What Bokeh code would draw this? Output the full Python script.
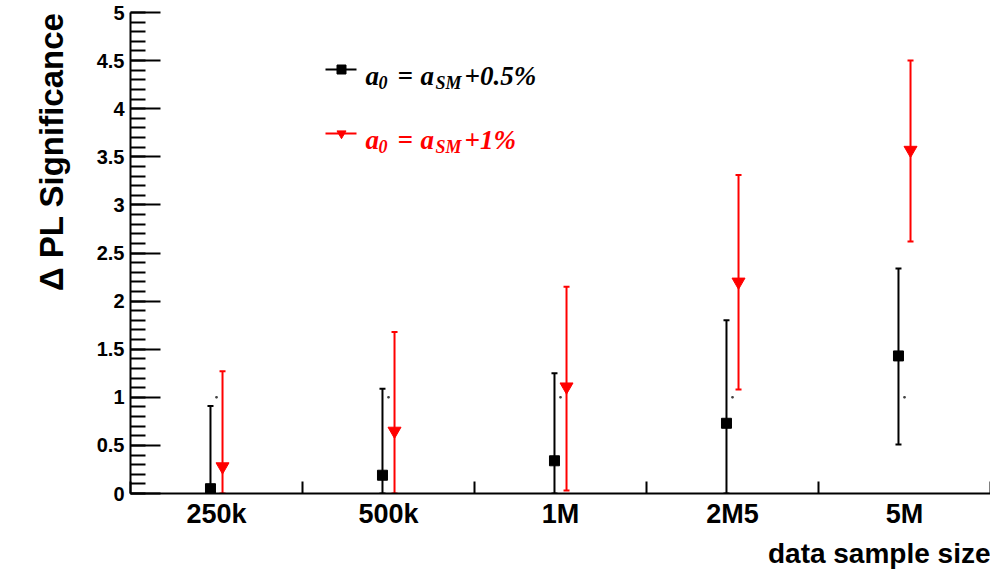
import numpy as np
from bokeh.plotting import figure
from bokeh.models import (Range1d, FixedTicker, Label, Whisker, TeeHead, ColumnDataSource,
                          Title)
from bokeh.embed import file_html
from bokeh.resources import INLINE

# ---------------- data ----------------
categories = ["250k", "500k", "1M", "2M5", "5M"]

sig_05 = [0.05, 0.19, 0.34, 0.73, 1.43]        # a0 = aSM + 0.5%
sig_05_lo = [0.0, 0.0, 0.0, 0.0, 0.51]
sig_05_hi = [0.91, 1.09, 1.25, 1.80, 2.34]

sig_1 = [0.28, 0.65, 1.11, 2.20, 3.57]         # a0 = aSM + 1%
sig_1_lo = [0.0, 0.0, 0.03, 1.08, 2.62]
sig_1_hi = [1.27, 1.68, 2.15, 3.31, 4.50]

ref_level = [1.0, 1.0, 1.0, 1.0, 1.0]

y_major = [0, 0.5, 1, 1.5, 2, 2.5, 3, 3.5, 4, 4.5, 5]
y_labels = ["0", "0.5", "1", "1.5", "2", "2.5", "3", "3.5", "4", "4.5", "5"]

# ---------------- layout ----------------
W, H = 990, 574
LEFT, TOP, BOTTOM = 130, 12, 81
FRAME_W = W - LEFT
FRAME_H = H - TOP - BOTTOM

def px(xp, yp):
    """page pixel -> data coords (annotation placement only)"""
    return ((xp - LEFT) * 5.0 / FRAME_W, (H - BOTTOM - yp) * 5.0 / FRAME_H)

SANS = "Liberation Sans"
SERIF = "Liberation Serif"
RED = "#ff0000"

n = len(categories)
centers = [i + 0.5 for i in range(n)]
edges = [float(i) for i in range(n + 1)]
dodge = 0.035
x_black = [c - dodge for c in centers]
x_red = [c + dodge for c in centers]

p = figure(width=W, height=H, x_range=Range1d(0, 5), y_range=Range1d(0, 5),
           output_backend="svg", toolbar_location=None,
           min_border_left=LEFT, min_border_right=0, min_border_top=TOP,
           min_border_bottom=BOTTOM)
p.outline_line_color = None
p.xgrid.visible = False
p.ygrid.visible = False
p.background_fill_color = "white"
p.border_fill_color = "white"

# x axis
xa = p.xaxis[0]
xa.ticker = FixedTicker(ticks=centers, minor_ticks=edges)
xa.major_label_overrides = {c: lab for c, lab in zip(centers, categories)}
xa.major_tick_in = 0
xa.major_tick_out = 0
xa.minor_tick_in = 12
xa.minor_tick_out = 0
xa.minor_tick_line_width = 2
xa.minor_tick_line_color = "black"
xa.axis_line_width = 2
xa.axis_line_color = "black"
xa.major_label_text_font = SANS
xa.major_label_text_font_style = "bold"
xa.major_label_text_font_size = "27px"
xa.major_label_text_color = "black"
xa.major_label_standoff = 5

# y axis
ya = p.yaxis[0]
y_minor = [round(i * 0.1, 1) for i in range(51)]
ya.ticker = FixedTicker(ticks=y_major, minor_ticks=y_minor)
ya.major_label_overrides = {v: s for v, s in zip(y_major, y_labels)}
ya.major_tick_in = 30
ya.major_tick_out = 0
ya.minor_tick_in = 15
ya.minor_tick_out = 0
ya.major_tick_line_width = 2
ya.minor_tick_line_width = 2
ya.major_tick_line_color = "black"
ya.minor_tick_line_color = "black"
ya.axis_line_width = 2
ya.axis_line_color = "black"
ya.major_label_text_font = SANS
ya.major_label_text_font_style = "bold"
ya.major_label_text_font_size = "20px"
ya.major_label_text_color = "black"
ya.major_label_standoff = 6

# axis titles, right/top aligned as in the ROOT original
p.add_layout(Title(text="\u0394 PL Significance", align="right", standoff=48,
                   text_font=SANS, text_font_style="bold", text_font_size="33px",
                   text_color="black"), "left")
p.add_layout(Title(text="data sample size", align="right", standoff=9,
                   text_font=SANS, text_font_style="bold", text_font_size="28px",
                   text_color="black"), "below")

# error bars
src_b = ColumnDataSource(dict(x=x_black, y=sig_05, lo=sig_05_lo, hi=sig_05_hi))
src_r = ColumnDataSource(dict(x=x_red, y=sig_1, lo=sig_1_lo, hi=sig_1_hi))
for src, col in ((src_b, "black"), (src_r, RED)):
    p.add_layout(Whisker(source=src, base="x", lower="lo", upper="hi", dimension="height",
                         line_color=col, line_width=2,
                         upper_head=TeeHead(size=6, line_color=col, line_width=2),
                         lower_head=TeeHead(size=6, line_color=col, line_width=2)))

p.scatter("x", "y", source=src_b, marker="square", size=10, color="black")
p.scatter("x", "y", source=src_r, marker="inverted_triangle", size=13, color=RED)
p.scatter(centers, ref_level, marker="square", size=1.5, color="#444444")

# legend (manual, for subscripts)
def legend_row(y_marker, color, marker, msize, tail):
    x0, y0 = px(325, y_marker)
    x1, _ = px(356, y_marker)
    xm, _ = px(341, y_marker)
    p.segment(x0=[x0], y0=[y0], x1=[x1], y1=[y0], line_color=color, line_width=2)
    p.scatter([xm], [y0], marker=marker, size=msize, color=color)
    pieces = [("a", 365, 6, "27px"), ("0", 378, 13, "18px"), ("=", 397, 6, "27px"),
              ("a", 420, 6, "27px"), ("SM", 435, 13, "18px"), (tail, 464, 6, "27px")]
    for txt, xp, dy, fs in pieces:
        lx, ly = px(xp, y_marker + dy)
        p.add_layout(Label(x=lx, y=ly, text=txt, text_align="left", text_baseline="alphabetic",
                           text_font=SERIF, text_font_style="bold italic",
                           text_font_size=fs, text_color=color))

legend_row(69, "black", "square", 9, "+0.5%")
legend_row(133, RED, "inverted_triangle", 9, "+1%")

open("out.html", "w").write(file_html(p, INLINE))
